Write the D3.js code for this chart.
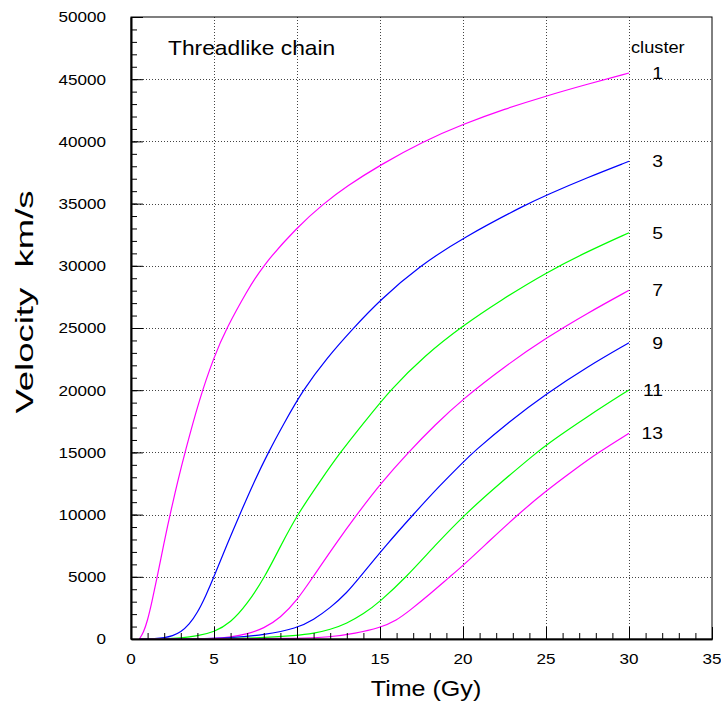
<!DOCTYPE html>
<html>
<head>
<meta charset="utf-8">
<script src="https://cdn.jsdelivr.net/npm/d3@7/dist/d3.min.js"></script>
<style>
  html, body { margin: 0; padding: 0; background: #fff; }
  svg { display: block; }
  text { font-family: "Liberation Sans", Arial, Helvetica, sans-serif; fill: #000; white-space: pre; }
</style>
</head>
<body>
<svg id="chart" width="721" height="704"></svg>
<script>
// Recession velocity of cluster members along a threadlike chain, versus time.
const clusterIds = [1, 3, 5, 7, 9, 11, 13];
const clusterColors = ["#ff00ff", "#0000ff", "#00ff00", "#ff00ff", "#0000ff", "#00ff00", "#ff00ff"];

// [time (Gy), velocity (km/s)]
const cluster1 = [[0.5,0],[0.75,500],[1,1500],[1.25,2900],[1.58,5000],[2,7800],[2.35,10000],[2.8,12600],[3.25,15000],[4.1,19200],[5,22700],[5.76,25000],[7,28000],[7.93,30000],[10,33100],[11.6,35000],[13,36400],[15,38100],[17.6,40000],[20,41380],[22.5,42600],[25,43650],[27.5,44600],[30,45500]];
const cluster3 = [[0.5,0],[1.5,30],[2,100],[2.5,250],[3,550],[3.5,1150],[4,2100],[4.5,3450],[5,5000],[5.75,7500],[6.55,10000],[7.4,12600],[8.27,15000],[9.2,17300],[10.35,20000],[11.8,22600],[13.4,25000],[15,27250],[17.4,30000],[20,32260],[23.9,35000],[25,35670],[27.5,37100],[30,38400]];
const cluster5 = [[0.5,0],[2,10],[3,80],[4,250],[5,550],[6,1300],[7,2800],[8.07,5000],[9,7450],[10.02,10000],[11.4,12700],[12.6,15000],[14.1,17500],[15.6,20000],[17.7,22800],[20,25200],[22.3,27250],[25,29450],[27.5,31150],[30,32660]];
const cluster7 = [[0.5,0],[3.5,5],[5,30],[6,150],[7,400],[8,850],[9,1700],[10,3100],[10.97,5000],[12.3,7600],[13.6,10000],[15.1,12600],[16.7,15000],[18.3,17200],[20,19300],[22.5,21900],[25,24200],[27.5,26200],[30,28030]];
const cluster9 = [[0.5,0],[4,10],[6,80],[8,330],[10,860],[11,1550],[12,2500],[13,3700],[13.8,5000],[15.4,7600],[17,10000],[18.5,12200],[20,14200],[20.6,15000],[22.8,17500],[25,19700],[27.5,21900],[30,23820]];
const cluster11 = [[0.5,0],[5,10],[7.5,60],[10,280],[11,450],[12,750],[13,1250],[14,2000],[15,3000],[16.6,5000],[18.3,7500],[20.1,10000],[22.2,12500],[24.45,15000],[25,15600],[27.5,17900],[30,20020]];
const cluster13 = [[0.5,0],[7,5],[10,40],[12,150],[13.5,450],[15,900],[16,1500],[16.8,2300],[18,3600],[19.2,5000],[20,5900],[21.6,7900],[23.3,10000],[25,11900],[26.6,13500],[28.15,15000],[30,16540]];
const series = [cluster1, cluster3, cluster5, cluster7, cluster9, cluster11, cluster13];

const xMajorTicks = [0, 5, 10, 15, 20, 25, 30, 35];
const yMajorTicks = [0, 5000, 10000, 15000, 20000, 25000, 30000, 35000, 40000, 45000, 50000];
const xMinorTicks = d3.range(0, 36, 1);
const yMinorTicks = d3.range(0, 50001, 1000);

const chartTitle = "Threadlike chain";
const legendTitle = "cluster";
const xTitle = "Time (Gy)";
const yTitle = "Velocity  km/s";

const svg = d3.select("#chart");
const L = 131, R = 712, T = 17, B = 639;
const STRETCH = 1.14;

const x = d3.scaleLinear().domain([0, 35]).range([L, R]);
const y = d3.scaleLinear().domain([0, 50000]).range([B, T]);

svg.append("rect").attr("width", 721).attr("height", 704).attr("fill", "#fff");

// text drawn slightly wide, as on the original canvas
function wideText(parent, px, py, str, size, anchor) {
  return parent.append("text")
    .attr("transform", `translate(${px},${py}) scale(${STRETCH},1)`)
    .attr("text-anchor", anchor)
    .style("font-size", size + "px")
    .text(str);
}

// dotted grid
const grid = svg.append("g").attr("stroke", "#444").attr("stroke-width", 1).attr("stroke-dasharray", "1,2").attr("shape-rendering", "crispEdges");
grid.selectAll("line.gx").data(xMajorTicks.filter(d => d > 0 && d < 35)).join("line")
  .attr("class", "gx")
  .attr("x1", d => Math.round(x(d)) + 0.5).attr("x2", d => Math.round(x(d)) + 0.5)
  .attr("y1", T).attr("y2", B);
grid.selectAll("line.gy").data(yMajorTicks.filter(d => d > 0 && d < 50000)).join("line")
  .attr("class", "gy")
  .attr("x1", L).attr("x2", R)
  .attr("y1", d => Math.round(y(d)) + 0.5).attr("y2", d => Math.round(y(d)) + 0.5);

// curves
const line = d3.line().x(d => x(d[0])).y(d => y(d[1])).curve(d3.curveBasis);
const curves = svg.append("g").attr("fill", "none").attr("stroke-width", 1.2);
series.forEach((s, i) => {
  curves.append("path").attr("d", line(s)).attr("stroke", clusterColors[i]);
});

// frame
svg.append("rect").attr("x", L).attr("y", T).attr("width", R - L).attr("height", B - T)
  .attr("fill", "none").attr("stroke", "#000").attr("stroke-width", 1);

// axes with inward ticks
const yMinorAxis = d3.axisLeft(y).tickValues(yMinorTicks).tickSizeInner(-6).tickSizeOuter(0).tickFormat("");
const yMajorAxis = d3.axisLeft(y).tickValues(yMajorTicks).tickSizeInner(-12).tickSizeOuter(0).tickFormat("");
const xMinorAxis = d3.axisBottom(x).tickValues(xMinorTicks).tickSizeInner(-6).tickSizeOuter(0).tickFormat("");
const xMajorAxis = d3.axisBottom(x).tickValues(xMajorTicks).tickSizeInner(-12).tickSizeOuter(0).tickFormat("");
[yMinorAxis, yMajorAxis].forEach(a => svg.append("g").attr("transform", `translate(${L},0)`).call(a));
[xMinorAxis, xMajorAxis].forEach(a => svg.append("g").attr("transform", `translate(0,${B})`).call(a));
svg.selectAll(".domain").attr("stroke", "#000").attr("stroke-width", 1.6);
svg.selectAll(".tick line").attr("stroke", "#000").attr("stroke-width", 1);

// tick labels
const labels = svg.append("g");
yMajorTicks.forEach(v => wideText(labels, 106, y(v) + 5.4, String(v), 15, "end"));
xMajorTicks.forEach(t => wideText(labels, x(t), 664, String(t), 15, "middle"));

// axis titles
wideText(svg, 426, 696, xTitle, 22, "middle");
svg.append("text")
  .attr("transform", `translate(33,302) rotate(-90) scale(1.66,1.1)`)
  .attr("text-anchor", "middle")
  .style("font-size", "22px")
  .text(yTitle);

// chart title and cluster labels
wideText(svg, 168, 55, chartTitle, 20, "start");
wideText(svg, 631, 53, legendTitle, 16, "start");
series.forEach((s, i) => {
  const last = s[s.length - 1];
  wideText(svg, 663, y(last[1]) + 6, String(clusterIds[i]), 17, "end");
});
</script>
</body>
</html>
